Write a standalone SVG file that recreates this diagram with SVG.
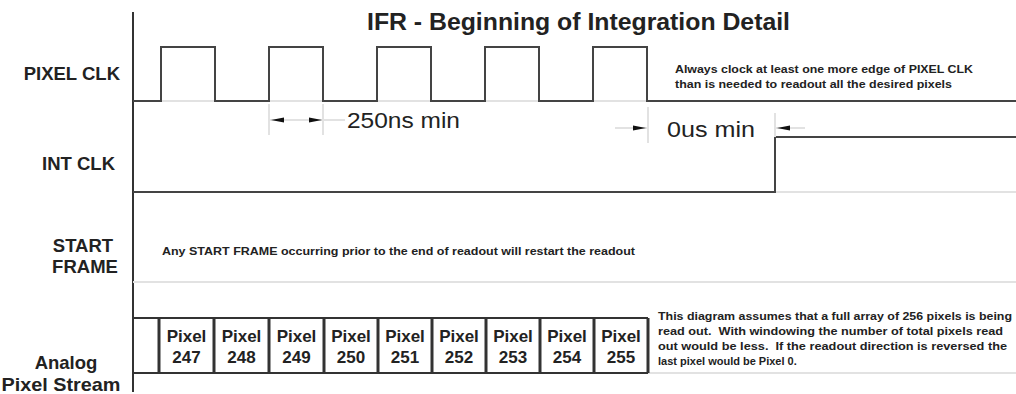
<svg xmlns="http://www.w3.org/2000/svg" width="1016" height="394" viewBox="0 0 1016 394">
<defs>
<style>
.lbl{font-family:"Liberation Sans",Arial,sans-serif;font-weight:bold;font-size:18.5px;fill:#222}
.note{font-family:"Liberation Sans",Arial,sans-serif;font-weight:bold;font-size:11px;fill:#222;white-space:pre}
.dim{font-family:"Liberation Sans",Arial,sans-serif;font-size:22px;fill:#222}
.cell{font-family:"Liberation Sans",Arial,sans-serif;font-weight:bold;font-size:17px;fill:#222;text-anchor:middle}
.sig{fill:none;stroke:#444;stroke-width:2}
.faint{fill:none;stroke:#e2e2e2;stroke-width:2}
.box{fill:none;stroke:#333;stroke-width:2}
.div{fill:none;stroke:#333;stroke-width:3}
.ah{fill:#111}
</style>
</defs>
<rect width="1016" height="394" fill="#fff"/>
<g id="title"><text x="367" y="30" font-family="'Liberation Sans',Arial,sans-serif" font-weight="bold" font-size="23.5" fill="#222" textLength="423" lengthAdjust="spacingAndGlyphs">IFR - Beginning of Integration Detail</text></g>
<g id="labels">
<text class="lbl" x="120" y="80" text-anchor="end">PIXEL CLK</text>
<text class="lbl" x="115" y="170" text-anchor="end">INT CLK</text>
<text class="lbl" x="83" y="252" text-anchor="middle">START</text>
<text class="lbl" x="85" y="273" text-anchor="middle">FRAME</text>
<text class="lbl" x="66" y="369" text-anchor="middle">Analog</text>
<text class="lbl" x="61" y="391" text-anchor="middle" textLength="119" lengthAdjust="spacingAndGlyphs">Pixel Stream</text>
</g>
<g id="connectors">
<line x1="133" y1="12" x2="133" y2="392" stroke="#333" stroke-width="2"/>
<line class="faint" x1="133" y1="101" x2="650" y2="101"/>
<line class="faint" x1="775" y1="192" x2="1016" y2="192"/>
<line class="faint" x1="133" y1="282" x2="1016" y2="282"/>
<line class="faint" x1="648" y1="373" x2="1016" y2="373"/>
</g>
<g id="pixel-clk">
<polyline class="sig" points="133,101 161,101 161,47 215,47 215,101 269,101 269,47 323,47 323,101 377,101 377,47 431,47 431,101 485,101 485,47 539,47 539,101 593,101 593,47 647,47 647,101 1016,101"/>
</g>
<g id="int-clk">
<polyline class="sig" points="133,192 775,192 775,137 1016,137"/>
</g>
<g id="dim-250ns">
<line class="faint" x1="269" y1="104" x2="269" y2="135" stroke-width="1.5"/>
<line class="faint" x1="323" y1="104" x2="323" y2="135" stroke-width="1.5"/>
<line class="faint" x1="270" y1="120" x2="345" y2="120" stroke-width="1.5"/>
<polygon class="ah" points="271,120 284,117.5 284,122.5"/>
<polygon class="ah" points="322,120 309,117.5 309,122.5"/>
<text class="dim" x="347" y="128" textLength="113" lengthAdjust="spacingAndGlyphs">250ns min</text>
</g>
<g id="dim-0us">
<line class="faint" x1="648" y1="107" x2="648" y2="143" stroke-width="1.5"/>
<line class="faint" x1="775" y1="113" x2="775" y2="137" stroke-width="1.5"/>
<line class="faint" x1="615" y1="128" x2="647" y2="128" stroke-width="1.5"/>
<line class="faint" x1="776" y1="128" x2="805" y2="128" stroke-width="1.5"/>
<polygon class="ah" points="646,128 633,125.5 633,130.5"/>
<polygon class="ah" points="777,128 790,125.5 790,130.5"/>
<text class="dim" x="667" y="137" textLength="88" lengthAdjust="spacingAndGlyphs">0us min</text>
</g>
<g id="note-clk">
<text class="note" x="675" y="73" textLength="298" lengthAdjust="spacingAndGlyphs">Always clock at least one more edge of PIXEL CLK</text>
<text class="note" x="675" y="88" textLength="277" lengthAdjust="spacingAndGlyphs">than is needed to readout all the desired pixels</text>
</g>
<g id="note-start">
<text class="note" x="162" y="255" textLength="473" lengthAdjust="spacingAndGlyphs">Any START FRAME occurring prior to the end of readout will restart the readout</text>
</g>
<g id="pixel-stream">
<line class="box" x1="133" y1="318" x2="648" y2="318"/>
<line class="box" x1="133" y1="373" x2="648" y2="373"/>
<line class="div" x1="159" y1="318" x2="159" y2="373"/>
<line class="div" x1="214" y1="318" x2="214" y2="373"/>
<line class="div" x1="269" y1="318" x2="269" y2="373"/>
<line class="div" x1="324" y1="318" x2="324" y2="373"/>
<line class="div" x1="378" y1="318" x2="378" y2="373"/>
<line class="div" x1="432" y1="318" x2="432" y2="373"/>
<line class="div" x1="486" y1="318" x2="486" y2="373"/>
<line class="div" x1="540" y1="318" x2="540" y2="373"/>
<line class="div" x1="594" y1="318" x2="594" y2="373"/>
<line class="div" x1="648" y1="318" x2="648" y2="373"/>
</g>
<g id="cell-247"><text class="cell" x="186.5" y="342">Pixel</text><text class="cell" x="186.5" y="363">247</text></g>
<g id="cell-248"><text class="cell" x="241.5" y="342">Pixel</text><text class="cell" x="241.5" y="363">248</text></g>
<g id="cell-249"><text class="cell" x="296.5" y="342">Pixel</text><text class="cell" x="296.5" y="363">249</text></g>
<g id="cell-250"><text class="cell" x="351" y="342">Pixel</text><text class="cell" x="351" y="363">250</text></g>
<g id="cell-251"><text class="cell" x="405" y="342">Pixel</text><text class="cell" x="405" y="363">251</text></g>
<g id="cell-252"><text class="cell" x="459" y="342">Pixel</text><text class="cell" x="459" y="363">252</text></g>
<g id="cell-253"><text class="cell" x="513" y="342">Pixel</text><text class="cell" x="513" y="363">253</text></g>
<g id="cell-254"><text class="cell" x="567" y="342">Pixel</text><text class="cell" x="567" y="363">254</text></g>
<g id="cell-255"><text class="cell" x="621" y="342">Pixel</text><text class="cell" x="621" y="363">255</text></g>
<g id="note-pixels">
<text class="note" x="658" y="320" textLength="354" lengthAdjust="spacingAndGlyphs">This diagram assumes that a full array of 256 pixels is being</text>
<text class="note" x="658" y="335" textLength="345" lengthAdjust="spacingAndGlyphs">read out.  With windowing the number of total pixels read</text>
<text class="note" x="658" y="350" textLength="349" lengthAdjust="spacingAndGlyphs">out would be less.  If the readout direction is reversed the</text>
<text class="note" x="658" y="365">last pixel would be Pixel 0.</text>
</g>
</svg>
